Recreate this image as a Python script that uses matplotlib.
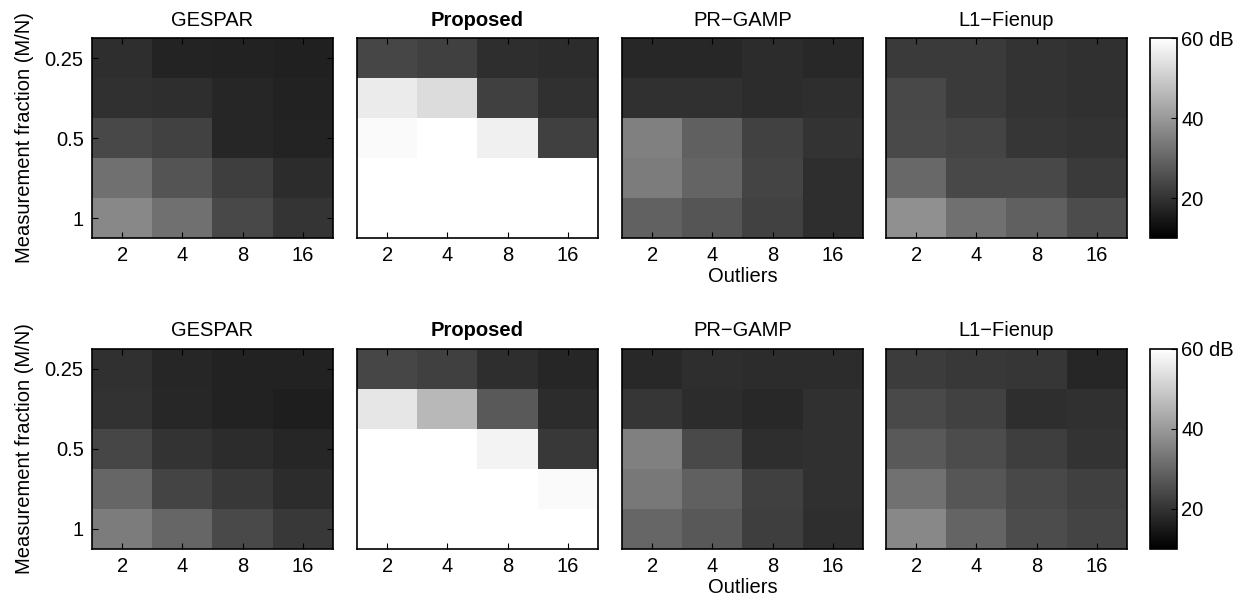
import numpy as np
import matplotlib
matplotlib.use("Agg")
import matplotlib.pyplot as plt

plt.rcParams['font.family'] = ['Liberation Sans', 'DejaVu Sans']

# --- data (dB), rows: measurement fraction 0.25 -> 1, cols: outliers 2,4,8,16 ---
outliers = [2, 4, 8, 16]
fraction_labels = ['0.25', '0.5', '1']
fraction_rows = [0, 2, 4]
methods = ['GESPAR', 'Proposed', 'PR\u2212GAMP', 'L1\u2212Fienup']

top_gespar = [[19.0, 17.0, 16.7, 16.3],
              [19.4, 19.0, 17.5, 16.7],
              [24.1, 22.9, 17.5, 17.0],
              [32.0, 26.5, 22.2, 18.6],
              [36.7, 32.0, 24.1, 20.2]]
top_proposed = [[23.7, 22.5, 19.0, 18.6],
                [55.9, 53.1, 22.5, 19.4],
                [59.0, 60.0, 57.0, 22.5],
                [60.0, 60.0, 60.0, 60.0],
                [60.0, 60.0, 60.0, 60.0]]
top_prgamp = [[17.8, 17.8, 18.6, 18.2],
              [19.4, 19.4, 18.6, 19.0],
              [35.1, 28.8, 22.9, 20.0],
              [34.3, 29.6, 23.3, 19.0],
              [29.2, 26.7, 22.9, 19.0]]
top_fienup = [[21.4, 21.4, 20.0, 19.4],
              [24.1, 21.4, 20.0, 19.4],
              [24.5, 23.3, 20.6, 20.0],
              [30.4, 24.1, 24.1, 21.4],
              [38.2, 32.0, 28.8, 24.9]]

bot_gespar = [[19.4, 17.5, 16.7, 16.7],
              [19.8, 17.8, 16.7, 15.9],
              [23.7, 20.0, 18.6, 17.5],
              [30.0, 23.3, 21.0, 18.6],
              [34.3, 30.0, 24.5, 21.0]]
bot_proposed = [[23.7, 22.5, 19.0, 17.5],
                [55.1, 46.1, 27.6, 18.6],
                [60.0, 60.0, 57.5, 21.0],
                [60.0, 60.0, 60.0, 59.0],
                [60.0, 60.0, 60.0, 60.0]]
bot_prgamp = [[18.2, 19.0, 18.6, 18.6],
              [20.6, 18.6, 18.2, 19.4],
              [35.1, 24.5, 19.0, 19.4],
              [33.5, 28.8, 22.5, 19.4],
              [30.0, 27.3, 22.2, 19.0]]
bot_fienup = [[21.8, 21.0, 20.6, 17.5],
              [24.5, 22.9, 19.0, 19.4],
              [27.6, 24.9, 22.2, 20.0],
              [32.4, 26.9, 24.1, 22.5],
              [36.7, 29.6, 24.9, 23.3]]

rows_data = [[top_gespar, top_proposed, top_prgamp, top_fienup],
             [bot_gespar, bot_proposed, bot_prgamp, bot_fienup]]

VMIN, VMAX = 10, 60
W, H = 1251, 607
fig = plt.figure(figsize=(W / 100, H / 100), dpi=100)

# panel placement in pixels
ax_x = [92, 357, 622, 886]
ax_w = 241
row_y = [38, 349]
ax_h = 200
FS = 14.5

for r, panel_list in enumerate(rows_data):
    y0 = row_y[r]
    im = None
    for c, vals in enumerate(panel_list):
        ax = fig.add_axes([ax_x[c] / W, 1 - (y0 + ax_h) / H, ax_w / W, ax_h / H])
        im = ax.imshow(np.array(vals), cmap='gray', vmin=VMIN, vmax=VMAX,
                       aspect='auto', interpolation='nearest')
        ax.set_xticks(range(len(outliers)))
        ax.set_xticklabels([str(o) for o in outliers], fontsize=FS)
        if c == 0:
            ax.set_yticks(fraction_rows)
            ax.set_yticklabels(fraction_labels, fontsize=FS)
            ax.set_ylabel('Measurement fraction (M/N)', fontsize=FS, labelpad=8)
        else:
            ax.set_yticks([])
        ax.tick_params(direction='in', top=True, right=(c == 0), length=4,
                       width=0.8, pad=6)
        ax.set_title(methods[c], fontsize=FS, pad=9,
                     fontweight='bold' if methods[c] == 'Proposed' else 'normal')
        if c == 2:
            ax.set_xlabel('Outliers', fontsize=FS, labelpad=1)
        for s in ax.spines.values():
            s.set_linewidth(1.2)

    cax = fig.add_axes([1150 / W, 1 - (y0 + ax_h) / H, 27 / W, ax_h / H])
    cb = fig.colorbar(im, cax=cax)
    cb.set_ticks([20, 40, 60])
    cb.set_ticklabels(['20', '40', '60 dB'])
    cb.ax.tick_params(direction='in', length=4, width=0.8, labelsize=FS, pad=3)
    cb.outline.set_linewidth(1.2)

fig.savefig('out.png', dpi=100)
